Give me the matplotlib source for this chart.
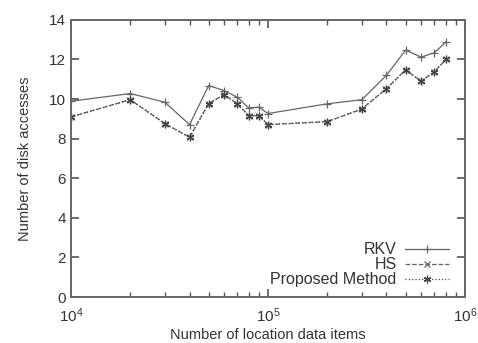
import matplotlib
matplotlib.use("Agg")
import matplotlib.pyplot as plt
from matplotlib.ticker import LogLocator, NullFormatter

n_items = [1e4, 2e4, 3e4, 4e4, 5e4, 6e4, 7e4, 8e4, 9e4, 1e5,
           2e5, 3e5, 4e5, 5e5, 6e5, 7e5, 8e5]
rkv = [9.89, 10.28, 9.84, 8.71, 10.68, 10.43, 10.09, 9.55, 9.59, 9.27,
       9.76, 9.97, 11.2, 12.47, 12.12, 12.34, 12.88]
hs = [9.10, 9.97, 8.76, 8.07, 9.77, 10.23, 9.76, 9.16, 9.16, 8.71,
      8.86, 9.50, 10.53, 11.48, 10.90, 11.38, 12.0]
proposed = [9.10, 9.97, 8.76, 8.07, 9.77, 10.23, 9.76, 9.16, 9.16, 8.71,
            8.86, 9.50, 10.53, 11.48, 10.90, 11.38, 12.0]
yticks = [0, 2, 4, 6, 8, 10, 12, 14]

plt.rcParams['font.family'] = ['Liberation Sans', 'DejaVu Sans']
txt = '#333333'
fig = plt.figure(figsize=(4.78, 3.43), dpi=100)
ax = fig.add_axes([0.1485, 0.134, 0.824, 0.808])

lc = '#666666'
ax.plot(n_items, rkv, '-', color=lc, lw=0.9, marker='+', ms=6, mew=0.9, label='RKV')
ax.plot(n_items, hs, '--', color=lc, lw=0.9, marker='x', ms=5, mew=0.9, label='HS')
ax.plot(n_items, proposed, ':', color='#444444', lw=0.9, marker=(6, 2, 0), ms=5.5, mew=0.9,
        label='Proposed Method')

ax.set_xscale('log')
ax.set_xlim(1e4, 1e6)
ax.set_ylim(0, 14)
ax.set_yticks(yticks)
ax.xaxis.set_major_locator(LogLocator(base=10, numticks=5))
ax.xaxis.set_minor_locator(LogLocator(base=10, subs=range(2, 10), numticks=20))
ax.xaxis.set_minor_formatter(NullFormatter())

for s in ax.spines.values():
    s.set_color('#666666')
    s.set_linewidth(1.4)
ax.tick_params(which='both', direction='in', top=True, right=True, colors='#555555',
               labelcolor=txt, labelsize=11)
ax.tick_params(which='major', length=6, width=1.2)
ax.tick_params(which='minor', length=3.5, width=1.0)
ax.tick_params(axis='x', pad=7)

ax.set_xlabel('Number of location data items', fontsize=10.5, color=txt, labelpad=2)
ax.set_ylabel('Number of disk accesses', fontsize=10.5, color=txt, labelpad=12)

leg = ax.legend(loc='lower right', frameon=False, markerfirst=False, fontsize=11.5,
                handlelength=2.8, handletextpad=0.5, labelspacing=0.0,
                borderaxespad=0.2, bbox_to_anchor=(0.985, 0.0))
for t in leg.get_texts():
    t.set_color(txt)
    t.set_ha('right')
for vp in leg._legend_box.get_children()[1].get_children():
    vp.align = 'right'

fig.savefig('out.png', dpi=100)
